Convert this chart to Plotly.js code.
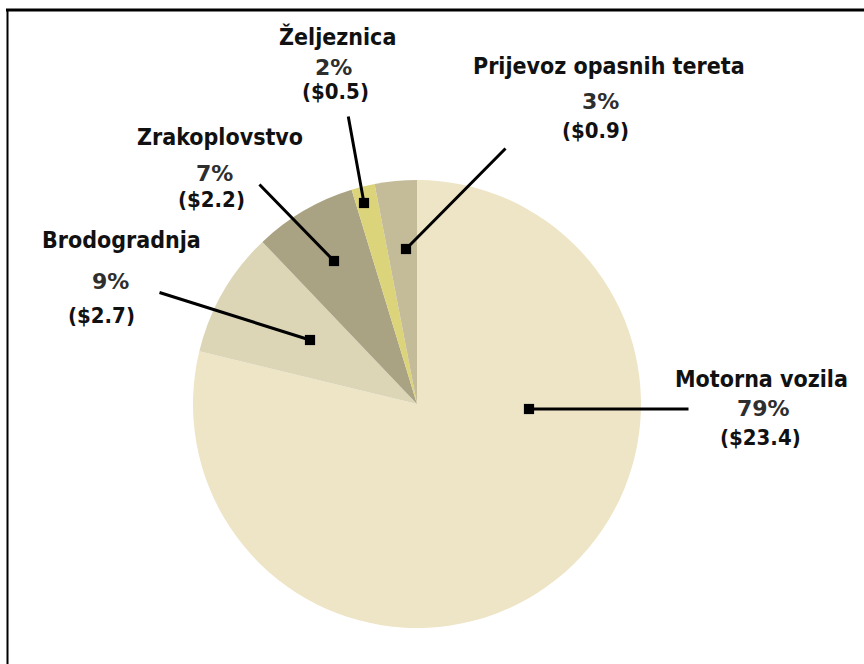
<!DOCTYPE html>
<html>
<head>
<meta charset="utf-8">
<script src="https://cdn.plot.ly/plotly-3.0.1.min.js"></script>
<style>
  html, body { margin: 0; padding: 0; background: #ffffff; }
  #chart { width: 864px; height: 664px; }
</style>
</head>
<body>
<div id="chart"></div>
<script>
// ---- data ----
const categories = ['Motorna vozila', 'Brodogradnja', 'Zrakoplovstvo', 'Željeznica', 'Prijevoz opasnih tereta'];
const values = [23.4, 2.7, 2.2, 0.5, 0.9];          // billions of $
const percentLabels = ['79%', '9%', '7%', '2%', '3%'];
const valueLabels = ['($23.4)', '($2.7)', '($2.2)', '($0.5)', '($0.9)'];
const sliceColors = ['#EEE5C6', '#DCD6B7', '#A9A283', '#DCD47A', '#C4BB99'];

// ---- layout helpers (pixel positions of label blocks and leader lines) ----
const W = 864, H = 664;
const px = x => x / W;
const py = y => 1 - y / H;

// label block: [nameX, nameY, pctX, pctY, valX, valY]
const labelPos = [
  [761, 379, 763, 408, 760, 437],
  [122, 240, 110, 282, 101, 315],
  [220, 137, 214, 174, 211, 200],
  [337, 36, 333, 68, 335, 92],
  [609, 66, 600, 101, 595, 130]
];
// leader: [tipX, tipY, tailX, tailY]
const leaders = [
  [529, 409, 690, 409],
  [310, 340, 158, 292],
  [334, 261, 258, 183],
  [364, 203, 348, 115],
  [406, 249, 507, 147]
];

const nameFont = {family: 'DejaVu Sans Condensed, DejaVu Sans, sans-serif', size: 23, color: '#111111', weight: 'bold'};
const pctFont = {family: 'DejaVu Sans, sans-serif', size: 22, color: '#2e2e2e', weight: 'bold'};
const valFont = {family: 'DejaVu Sans Condensed, DejaVu Sans, sans-serif', size: 22, color: '#111111', weight: 'bold'};

const annotations = [];
categories.forEach((c, i) => {
  const p = labelPos[i];
  annotations.push({xref: 'paper', yref: 'paper', x: px(p[0]), y: py(p[1]), text: '<b>' + c + '</b>',
    showarrow: false, xanchor: 'center', yanchor: 'middle', font: nameFont});
  annotations.push({xref: 'paper', yref: 'paper', x: px(p[2]), y: py(p[3]), text: '<b>' + percentLabels[i] + '</b>',
    showarrow: false, xanchor: 'center', yanchor: 'middle', font: pctFont});
  annotations.push({xref: 'paper', yref: 'paper', x: px(p[4]), y: py(p[5]), text: '<b>' + valueLabels[i] + '</b>',
    showarrow: false, xanchor: 'center', yanchor: 'middle', font: valFont});
  const l = leaders[i];
  annotations.push({xref: 'paper', yref: 'paper', x: px(l[0]), y: py(l[1]), ax: l[2] - l[0], ay: l[3] - l[1],
    text: '', showarrow: true, arrowhead: 7, arrowsize: 0.85, arrowwidth: 3, arrowcolor: '#000000',
    standoff: 0, startstandoff: 0, font: {size: 1}});
});

const trace = {
  type: 'pie',
  labels: categories,
  values: values,
  sort: false,
  direction: 'clockwise',
  rotation: 0,
  textinfo: 'none',
  hoverinfo: 'label+value+percent',
  marker: {colors: sliceColors, line: {width: 0}},
  showlegend: false,
  domain: {x: [(417 - 224) / W, (417 + 224) / W], y: [(260 - 224) / H, (260 + 224) / H]}
};

const layout = {
  width: W, height: H,
  margin: {l: 0, r: 0, t: 0, b: 0},
  paper_bgcolor: '#ffffff',
  plot_bgcolor: '#ffffff',
  showlegend: false,
  annotations: annotations,
  shapes: [
    {type: 'line', xref: 'paper', yref: 'paper', x0: px(6), x1: px(864), y0: py(10), y1: py(10), line: {color: '#000', width: 3}},
    {type: 'line', xref: 'paper', yref: 'paper', x0: px(7.5), x1: px(7.5), y0: py(9), y1: py(664), line: {color: '#000', width: 2}}
  ]
};

Plotly.newPlot('chart', [trace], layout, {displayModeBar: false, staticPlot: true});
</script>
</body>
</html>
